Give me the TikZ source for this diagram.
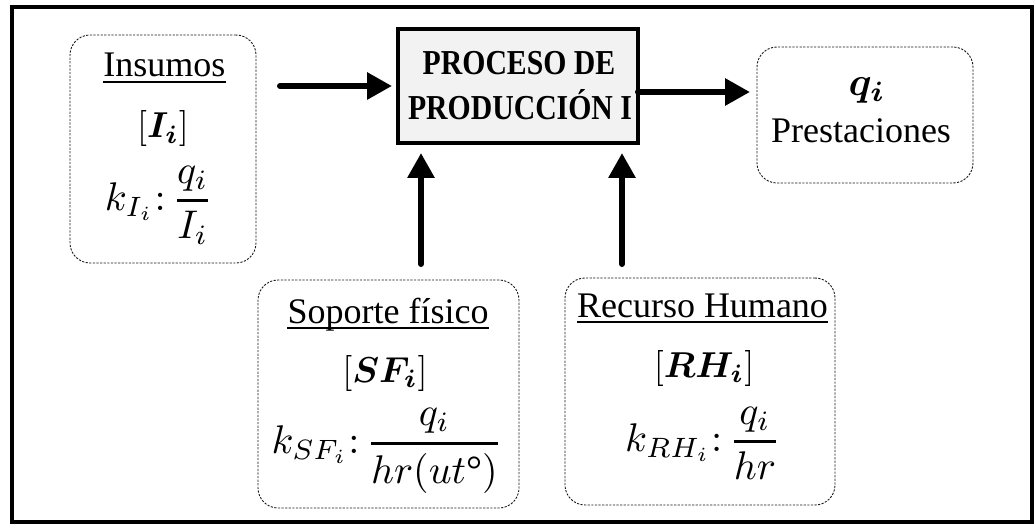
\documentclass[tikz,border=0pt]{standalone}
\usepackage{graphicx}
\usepackage{amsmath,bm}
\usepackage{fontspec}
\setmainfont{Liberation Serif}
\newfontfamily\headfont{Liberation Serif}[FakeStretch=0.85]
\usetikzlibrary{arrows.meta,calc}
% fraction with a heavier rule
\newcommand{\kfrac}[2]{\genfrac{}{}{0.7pt}{0}{#1}{#2}}
% math set at 10pt and enlarged
\newcommand{\bigmath}[1]{\scalebox{3.6}{$#1$}}
\newcommand{\ratiomath}[1]{\scalebox{4.0}{$#1$}}

\begin{document}
\begin{tikzpicture}[x=1pt,y=-1pt,
  frame/.style={draw, line width=4pt},
  source/.style={draw=black!90, line width=0.9pt, dash pattern=on 2.2pt off 1.4pt,
    rounded corners=20pt, inner sep=0pt, outer sep=0pt},
  procbox/.style={draw, line width=3.5pt, fill=black!5, inner sep=0pt, outer sep=0pt},
  label/.style={inner sep=0pt, anchor=base, font=\fontsize{36}{43}\selectfont},
  mathtxt/.style={inner sep=0pt, font=\fontsize{10}{12}\selectfont},
  head/.style={inner sep=0pt, anchor=base, font=\headfont\bfseries\fontsize{35}{45}\selectfont},
  flow/.style={line width=6pt, line cap=round, -{Triangle[length=25pt,width=26pt]}},
  uline/.style={line width=2pt}]
\useasboundingbox (0,0) rectangle (1034,524);

% outer frame
\draw[frame] (12,7) rectangle (1032,522);

% boxes
\node[source, minimum width=186pt, minimum height=228pt] (ins) at (163,149) {};
\node[procbox, minimum width=240pt, minimum height=114pt] (pp) at (518,86) {};
\node[source, minimum width=216pt, minimum height=136pt] (pres) at (865,115) {};
\node[source, minimum width=261pt, minimum height=228pt] (sf) at (388.5,394) {};
\node[source, minimum width=270pt, minimum height=227pt] (rh) at (700,391.5) {};

% process title
\node[head] (t1) at (519,75) {PROCESO DE};
\node[head] (t2) at (520,120) {PRODUCCIÓN I};

% inputs
\node[label] (insT) at (164.5,77) {Insumos};
\draw[uline] ([yshift=-5pt]insT.base west) -- ([yshift=-5pt]insT.base east);
\node[mathtxt] (insI) at (163,129) {\bigmath{[\bm{I}_{\bm{i}}]}};
\node[mathtxt] (insK) at (159,205) {\ratiomath{k_{I_i}{:}\,\kfrac{q_i}{I_i}}};

% output
\node[mathtxt] (presq) at (867,91) {\ratiomath{\bm{q}_{\bm{i}}}};
\node[label] (presT) at (861,143) {Prestaciones};

% physical support
\node[label] (sfT) at (388,323) {Soporte físico};
\draw[uline] ([yshift=-5pt]sfT.base west) -- ([yshift=-5pt]sfT.base east);
\node[mathtxt] (sfI) at (385,373) {\bigmath{[\bm{S}\bm{F}_{\bm{i}}]}};
\node[mathtxt] (sfK) at (387,451) {\ratiomath{k_{SF_i}{:}\,\kfrac{q_i}{hr(ut\text{°})}}};

% human resources
\node[label] (rhT) at (702.5,317) {Recurso Humano};
\draw[uline] ([yshift=-5pt]rhT.base west) -- ([yshift=-5pt]rhT.base east);
\node[mathtxt] (rhI) at (704,368) {\bigmath{[\bm{R}\bm{H}_{\bm{i}}]}};
\node[mathtxt] (rhK) at (703,443) {\ratiomath{k_{RH_i}{:}\,\kfrac{q_i}{hr}}};

% flows
\coordinate (ppOut) at ([yshift=-6pt]pp.east);
\coordinate (sfUp) at ([xshift=32.5pt]sf.north);
\coordinate (rhUp) at ([xshift=-78pt]rh.north);
\draw[flow, shorten <=24pt, shorten >=6pt] (ins.east |- pp.west) -- (pp.west);
\draw[flow, shorten >=7pt] (ppOut) -- (ppOut -| pres.west);
\draw[flow, shorten <=16pt, shorten >=10pt] (sfUp) -- (sfUp |- pp.south);
\draw[flow, shorten <=14pt, shorten >=10pt] (rhUp) -- (rhUp |- pp.south);
\end{tikzpicture}
\end{document}
